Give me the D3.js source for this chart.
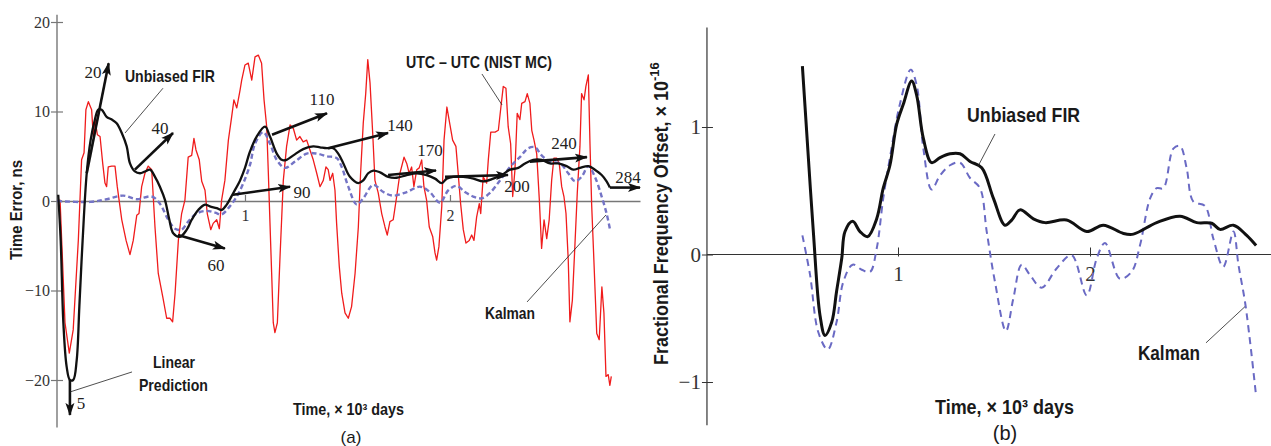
<!DOCTYPE html>
<html>
<head>
<meta charset="utf-8">
<script src="https://cdn.jsdelivr.net/npm/d3@7"></script>
<style>
  body { margin: 0; background: #fff; }
  svg { display: block; }
</style>
</head>
<body>
<svg id="chart" width="1271" height="446"></svg>
<script>
// ---- data: time in 10^3 days ----
// (a) time error, ns
var utcNist = [[0.083,0],[0.098,0.1],[0.122,-13.6],[0.143,-17.0],[0.162,-14.4],[0.187,-4.4],[0.203,4.6],[0.215,5.4],[0.224,10.2],[0.236,11.1],[0.252,10.2],[0.260,7.2],[0.268,9.1],[0.280,7.4],[0.293,7.2],[0.306,4.2],[0.317,2.0],[0.325,1.6],[0.333,3.8],[0.350,3.9],[0.366,3.9],[0.377,1.6],[0.399,-2.1],[0.420,-4.4],[0.439,-6.0],[0.455,-4.4],[0.472,-1.6],[0.483,-1.4],[0.496,1.6],[0.512,3.1],[0.528,3.9],[0.545,3.5],[0.561,-2.9],[0.577,-8.1],[0.599,-10.7],[0.618,-13.1],[0.634,-13.1],[0.647,-13.5],[0.659,-10.3],[0.675,-4.4],[0.691,-1.4],[0.707,0.1],[0.723,4.9],[0.740,5.1],[0.751,7.0],[0.761,5.7],[0.777,4.6],[0.789,2.2],[0.805,1.2],[0.816,-1.4],[0.833,-3.2],[0.845,-2.5],[0.862,-2.1],[0.875,-3.1],[0.886,0.1],[0.902,2.3],[0.919,6.8],[0.935,9.4],[0.946,11.3],[0.960,10.4],[0.976,12.4],[0.984,13.5],[1.000,15.2],[1.016,15.4],[1.033,13.5],[1.049,16.1],[1.065,16.3],[1.081,15.4],[1.093,11.3],[1.106,8.3],[1.114,3.1],[1.122,-2.5],[1.130,-8.0],[1.138,-13.6],[1.146,-14.7],[1.158,-13.6],[1.171,-6.2],[1.187,2.3],[1.203,6.1],[1.220,8.5],[1.236,8.1],[1.252,6.8],[1.268,7.2],[1.284,6.6],[1.301,6.8],[1.317,5.7],[1.333,4.6],[1.350,3.1],[1.366,1.6],[1.382,2.3],[1.395,3.8],[1.406,3.5],[1.415,2.3],[1.428,3.1],[1.439,1.2],[1.447,-2.5],[1.460,-7.3],[1.472,-10.3],[1.488,-12.5],[1.504,-13.1],[1.520,-11.8],[1.537,-8.1],[1.553,-2.9],[1.564,3.1],[1.577,8.7],[1.589,12.0],[1.599,15.8],[1.610,13.2],[1.623,7.6],[1.634,2.3],[1.650,0.9],[1.667,-1.4],[1.683,-2.9],[1.694,-3.8],[1.707,-2.3],[1.723,-2.1],[1.740,0.5],[1.756,3.1],[1.776,4.9],[1.789,4.2],[1.801,3.1],[1.813,3.8],[1.824,1.6],[1.838,3.5],[1.850,3.7],[1.862,4.6],[1.873,1.6],[1.886,0.1],[1.899,-2.9],[1.916,-4.0],[1.927,-5.8],[1.935,-6.6],[1.946,-5.1],[1.960,-0.6],[1.971,6.8],[1.985,10.5],[2.000,8.5],[2.013,6.8],[2.029,6.1],[2.040,3.1],[2.052,-0.3],[2.065,-3.2],[2.078,-4.7],[2.094,-4.4],[2.106,-3.8],[2.117,-4.4],[2.130,-1.8],[2.143,-0.3],[2.150,-1.4],[2.162,2.7],[2.179,2.0],[2.187,4.6],[2.199,7.7],[2.220,7.7],[2.236,7.9],[2.247,10.2],[2.260,12.8],[2.273,12.6],[2.284,8.3],[2.296,6.4],[2.306,0.5],[2.317,3.5],[2.328,9.8],[2.341,9.1],[2.350,10.9],[2.366,11.1],[2.377,12.0],[2.390,10.9],[2.399,7.9],[2.410,6.8],[2.423,5.3],[2.436,0.1],[2.447,-5.3],[2.459,-2.1],[2.472,-4.2],[2.484,-2.1],[2.496,2.3],[2.507,4.8],[2.520,4.8],[2.533,4.2],[2.545,1.6],[2.556,0.5],[2.566,-1.4],[2.577,-6.6],[2.585,-13.5],[2.597,-11.1],[2.610,-4.7],[2.621,0.9],[2.634,6.1],[2.642,12.0],[2.654,11.3],[2.663,12.8],[2.675,14.1],[2.683,6.4],[2.691,-0.3],[2.702,-6.6],[2.716,-14.8],[2.728,-15.5],[2.741,-9.6],[2.751,-12.5],[2.761,-19.6],[2.772,-19.4],[2.780,-20.6],[2.787,-19.6]];

var firError = [[0.089,0.7],[0.101,-4.4],[0.114,-13.6],[0.130,-18.5],[0.146,-20.0],[0.162,-20.0],[0.179,-17.8],[0.192,-11.8],[0.208,-4.4],[0.228,3.1],[0.247,6.8],[0.268,9.1],[0.284,10.2],[0.301,10.2],[0.325,9.4],[0.350,9.1],[0.374,8.7],[0.399,7.6],[0.423,6.1],[0.439,4.2],[0.463,3.3],[0.488,3.1],[0.512,3.3],[0.537,3.5],[0.561,2.7],[0.585,1.6],[0.610,0.1],[0.631,-2.1],[0.650,-3.6],[0.683,-4.0],[0.716,-3.2],[0.740,-2.1],[0.772,-1.0],[0.805,-0.4],[0.829,-0.6],[0.862,-0.8],[0.886,-1.0],[0.911,-0.4],[0.943,0.9],[0.976,2.3],[1.000,3.7],[1.024,5.5],[1.057,7.2],[1.098,8.3],[1.122,7.2],[1.155,5.3],[1.179,4.6],[1.203,4.6],[1.236,5.1],[1.284,5.8],[1.333,6.1],[1.366,6.0],[1.399,5.9],[1.431,5.9],[1.455,5.3],[1.480,4.2],[1.512,2.7],[1.553,2.0],[1.577,2.3],[1.601,3.1],[1.626,3.4],[1.659,3.2],[1.699,2.7],[1.740,2.6],[1.789,2.9],[1.838,3.1],[1.886,2.9],[1.927,2.5],[1.960,2.0],[1.984,2.5],[2.016,2.7],[2.065,2.7],[2.114,2.5],[2.162,2.2],[2.211,2.5],[2.252,2.9],[2.293,3.5],[2.333,3.7],[2.366,4.2],[2.406,4.6],[2.447,4.6],[2.488,4.2],[2.528,4.2],[2.569,3.9],[2.601,3.5],[2.634,3.7],[2.675,3.9],[2.707,3.5],[2.740,2.9],[2.764,2.2],[2.780,1.5]];

var kalmanError = [[0.083,0],[0.244,-0.1],[0.325,0.2],[0.406,0.6],[0.472,0.2],[0.545,0.5],[0.585,-0.3],[0.626,-2.1],[0.659,-3.1],[0.691,-3.2],[0.723,-2.3],[0.764,-1.4],[0.813,-1.1],[0.854,-1.3],[0.886,-1.5],[0.919,-0.8],[0.960,0.5],[0.992,2.0],[1.024,4.0],[1.049,6.4],[1.089,7.7],[1.122,6.4],[1.155,4.6],[1.195,3.7],[1.244,4.4],[1.301,5.3],[1.350,5.3],[1.399,5.0],[1.447,4.8],[1.472,3.8],[1.504,1.6],[1.545,-0.4],[1.577,0.3],[1.626,1.8],[1.675,1.0],[1.723,0.6],[1.789,1.0],[1.854,1.6],[1.902,1.0],[1.951,-0.2],[1.992,1.2],[2.033,1.7],[2.073,1.0],[2.114,0.5],[2.155,0.3],[2.195,0.9],[2.244,2.3],[2.293,3.8],[2.341,4.9],[2.382,5.9],[2.415,6.0],[2.447,5.1],[2.488,4.4],[2.537,4.2],[2.577,3.1],[2.610,2.2],[2.642,2.7],[2.675,3.9],[2.707,2.7],[2.740,0.5],[2.764,-1.4],[2.780,-3.1]];

// linear prediction arrows: step label, start (t, ns), end (t, ns)
var predSteps = ["5","20","40","60","90","110","140","170","200","240","284"];
var predFrom  = [[0.146,-20.0],[0.228,3.1],[0.463,3.5],[0.673,-3.8],[0.941,0.7],[1.132,7.4],[1.405,5.9],[1.698,2.9],[1.976,2.7],[2.390,4.4],[2.780,1.5]];
var predTo    = [[0.146,-23.9],[0.335,15.4],[0.649,7.6],[0.902,-5.3],[1.220,1.6],[1.400,9.8],[1.698,7.6],[1.932,3.4],[2.283,2.9],[2.668,4.9],[2.927,1.5]];

// (b) fractional frequency offset, x 1e-16
var firFreq = [[0.502,1.478],[0.524,0.97],[0.559,0.18],[0.594,-0.48],[0.620,-0.635],[0.655,-0.53],[0.680,-0.29],[0.707,-0.03],[0.724,0.18],[0.764,0.26],[0.802,0.18],[0.842,0.14],[0.889,0.28],[0.923,0.52],[0.958,0.70],[0.993,1.02],[1.028,1.18],[1.071,1.36],[1.097,1.25],[1.132,0.91],[1.175,0.72],[1.219,0.76],[1.271,0.79],[1.323,0.79],[1.375,0.73],[1.436,0.68],[1.497,0.44],[1.557,0.23],[1.592,0.27],[1.635,0.35],[1.705,0.28],[1.766,0.25],[1.878,0.27],[1.983,0.18],[2.069,0.23],[2.174,0.165],[2.226,0.16],[2.347,0.25],[2.469,0.30],[2.556,0.25],[2.634,0.245],[2.677,0.197],[2.747,0.23],[2.816,0.15],[2.865,0.07]];

var kalmanFreq = [[0.502,0.15],[0.542,-0.16],[0.585,-0.61],[0.634,-0.745],[0.680,-0.53],[0.715,-0.215],[0.764,-0.08],[0.811,-0.12],[0.854,-0.137],[0.889,0.047],[0.923,0.44],[0.958,0.76],[1.010,1.18],[1.066,1.45],[1.097,1.33],[1.132,0.83],[1.175,0.51],[1.219,0.62],[1.271,0.70],[1.323,0.72],[1.375,0.60],[1.427,0.52],[1.462,0.18],[1.505,-0.215],[1.562,-0.60],[1.600,-0.35],[1.644,-0.08],[1.687,-0.16],[1.748,-0.26],[1.826,-0.11],[1.904,-0.005],[1.983,-0.32],[2.035,-0.03],[2.078,0.09],[2.156,-0.19],[2.217,-0.135],[2.260,0.07],[2.313,0.44],[2.347,0.52],[2.382,0.52],[2.434,0.83],[2.469,0.85],[2.503,0.68],[2.538,0.415],[2.599,0.38],[2.642,0.126],[2.694,-0.097],[2.747,0.18],[2.773,-0.08],[2.810,-0.40],[2.865,-1.11]];

var yTicksA = [-20, -10, 0, 10, 20];
var xTicksA = [1, 2];
var yTicksB = [-1, 0, 1];
var xTicksB = [1, 2];

// ---- layout ----
var SANS = "'Liberation Sans Narrow','Arial Narrow','Liberation Sans',Arial,sans-serif";
var SERIF = "'Liberation Serif','Times New Roman','DejaVu Serif',serif";

var svg = d3.select("#chart");

var xa = d3.scaleLinear().domain([0.083, 2.927]).range([57, 640]);
var ya = d3.scaleLinear().domain([-20, 20]).range([380, 22]);
var xb = d3.scaleLinear().domain([0, 2.94]).range([706, 1270.5]);
var yb = d3.scaleLinear().domain([-1, 1]).range([382, 127]);

var defs = svg.append("defs");
defs.append("marker")
    .attr("id", "head")
    .attr("viewBox", "0 -5 13 10")
    .attr("refX", 12).attr("refY", 0)
    .attr("markerWidth", 13).attr("markerHeight", 10)
    .attr("markerUnits", "userSpaceOnUse")
    .attr("orient", "auto")
  .append("path")
    .attr("d", "M0,-4.5L13,0L0,4.5L3,0Z")
    .attr("fill", "#111");

function text(g, x, y, s, size, len, weight, family) {
    var t = g.append("text")
        .attr("x", x).attr("y", y)
        .attr("dy", "0.36em")
        .attr("text-anchor", "middle")
        .style("font-family", family || SANS)
        .style("font-size", size + "px")
        .style("font-weight", weight || "bold")
        .attr("fill", "#1a1a1a")
        .text(s);
    if (len) t.attr("textLength", len).attr("lengthAdjust", "spacingAndGlyphs");
    return t;
}

function leader(g, x1, y1, x2, y2) {
    g.append("line")
        .attr("x1", x1).attr("y1", y1).attr("x2", x2).attr("y2", y2)
        .attr("stroke", "#222").attr("stroke-width", 0.8);
}

// ===== panel (a) =====
var gA = svg.append("g");

// axes
gA.append("line")
    .attr("x1", xa.range()[0]).attr("x2", xa.range()[0])
    .attr("y1", ya(20.8)).attr("y2", ya(-25.3))
    .attr("stroke", "#777").attr("stroke-width", 1.4);

var axYA = gA.append("g")
    .attr("transform", "translate(" + xa.range()[0] + ",0)")
    .call(d3.axisLeft(ya).tickValues(yTicksA).tickSizeInner(6).tickSizeOuter(0).tickPadding(1));
axYA.select(".domain").remove();
axYA.selectAll(".tick line").attr("x1", 6).attr("stroke", "#777").attr("stroke-width", 1.2);
axYA.selectAll("text").style("font-family", SERIF).style("font-size", "16px").attr("fill", "#333");

var axXA = gA.append("g")
    .attr("transform", "translate(0," + ya(0) + ")")
    .call(d3.axisBottom(xa).tickValues(xTicksA).tickSizeInner(-6).tickSizeOuter(0).tickPadding(9).tickFormat(d3.format("d")));
axXA.select(".domain").attr("stroke", "#777").attr("stroke-width", 1.4);
axXA.selectAll(".tick line").attr("stroke", "#777").attr("stroke-width", 1.2);
axXA.selectAll("text").style("font-family", SERIF).style("font-size", "16px").attr("fill", "#333");

var lineA = d3.line().x(function(d){ return xa(d[0]); }).y(function(d){ return ya(d[1]); });

gA.append("path").datum(utcNist)
    .attr("d", lineA)
    .attr("fill", "none").attr("stroke", "#f01c1c").attr("stroke-width", 1.3)
    .attr("stroke-linejoin", "round");

gA.append("path").datum(kalmanError)
    .attr("d", lineA.curve(d3.curveCatmullRom))
    .attr("fill", "none").attr("stroke", "#7474c6").attr("stroke-width", 2.4)
    .attr("stroke-dasharray", "5,3");

gA.append("path").datum(firError)
    .attr("d", lineA.curve(d3.curveCatmullRom))
    .attr("fill", "none").attr("stroke", "#111").attr("stroke-width", 2.3)
    .attr("stroke-linejoin", "round");

// prediction arrows
var preds = predSteps.map(function(s, i){ return {step: s, from: predFrom[i], to: predTo[i]}; });
gA.selectAll(".pred").data(preds).enter().append("line")
    .attr("class", "pred")
    .attr("x1", function(d){ return xa(d.from[0]); })
    .attr("y1", function(d){ return ya(d.from[1]); })
    .attr("x2", function(d){ return xa(d.to[0]); })
    .attr("y2", function(d){ return ya(d.to[1]); })
    .attr("stroke", "#111").attr("stroke-width", 2.6)
    .attr("marker-end", "url(#head)");

// step labels, placed in data units near the arrow tips
var predLabelAt = [[0.200,-22.6],[0.259,14.4],[0.585,8.2],[0.859,-7.15],[1.278,1.0],[1.376,11.4],[1.756,8.5],[1.902,5.7],[2.327,1.7],[2.556,6.5],[2.868,2.7]];
preds.forEach(function(d, i){
    text(gA, xa(predLabelAt[i][0]), ya(predLabelAt[i][1]), d.step, 17, null, "normal", SERIF)
        .attr("fill", "#222");
});

// curve annotations
text(gA, xa(0.634), ya(13.97), "Unbiased FIR", 17, 90);
leader(gA, xa(0.600), ya(12.6), xa(0.415), ya(7.6));
text(gA, xa(2.141), ya(15.53), "UTC \u2013 UTC (NIST MC)", 17, 146);
leader(gA, xa(2.156), ya(14.19), xa(2.254), ya(10.73));
text(gA, xa(2.293), ya(-12.51), "Kalman", 17, 50);
leader(gA, xa(2.376), ya(-11.28), xa(2.761), ya(-1.56));
text(gA, xa(0.654), ya(-17.99), "Linear", 17, 42);
text(gA, xa(0.651), ya(-20.5), "Prediction", 17, 69);
leader(gA, xa(0.449), ya(-19.1), xa(0.146), ya(-21.34));

// axis titles
gA.append("text")
    .attr("transform", "translate(21.5,260) rotate(-90)")
    .style("font-family", SANS).style("font-size", "16px").style("font-weight", "bold")
    .attr("fill", "#1a1a1a")
    .attr("textLength", 100).attr("lengthAdjust", "spacingAndGlyphs")
    .text("Time Error, ns");
text(gA, 348.5, 409, "Time, \u00d7 10\u00b3 days", 16, 111);
text(gA, 351, 437, "(a)", 17, null, "normal", "'Liberation Sans',Arial,sans-serif");

// ===== panel (b) =====
var gB = svg.append("g");

gB.append("line")
    .attr("x1", xb(0.005)).attr("x2", xb(0.005))
    .attr("y1", yb(1.78)).attr("y2", yb(-1.34))
    .attr("stroke", "#333").attr("stroke-width", 1.2);

var axYB = gB.append("g")
    .attr("transform", "translate(" + xb(0.005) + ",0)")
    .call(d3.axisLeft(yb).tickValues(yTicksB).tickSizeInner(5).tickSizeOuter(0).tickPadding(1).tickFormat(d3.format("d")));
axYB.select(".domain").remove();
axYB.selectAll(".tick line").attr("x1", 6).attr("stroke", "#333");
axYB.selectAll("text").style("font-family", SERIF).style("font-size", "21px").attr("fill", "#333");

var axXB = gB.append("g")
    .attr("transform", "translate(0," + yb(0) + ")")
    .call(d3.axisBottom(xb).tickValues(xTicksB).tickSizeInner(-7).tickSizeOuter(0).tickPadding(12).tickFormat(d3.format("d")));
axXB.select(".domain").attr("d", "M" + xb(0.005) + ",0H1271").attr("stroke", "#333").attr("stroke-width", 1.2);
axXB.selectAll(".tick line").attr("y1", 2).attr("stroke", "#333");
axXB.selectAll("text").style("font-family", SERIF).style("font-size", "21px").attr("fill", "#333");

var lineB = d3.line().curve(d3.curveCatmullRom)
    .x(function(d){ return xb(d[0]); }).y(function(d){ return yb(d[1]); });

gB.append("path").datum(kalmanFreq)
    .attr("d", lineB)
    .attr("fill", "none").attr("stroke", "#6a6ac4").attr("stroke-width", 2)
    .attr("stroke-dasharray", "7,5");

gB.append("path").datum(firFreq)
    .attr("d", lineB)
    .attr("fill", "none").attr("stroke", "#111").attr("stroke-width", 3)
    .attr("stroke-linejoin", "round");

text(gB, xb(1.654), yb(1.102), "Unbiased FIR", 21, 113);
leader(gB, xb(1.505), yb(0.945), xb(1.417), yb(0.693));
text(gB, xb(2.411), yb(-0.772), "Kalman", 21, 62);
leader(gB, xb(2.604), yb(-0.693), xb(2.807), yb(-0.409));

var yTitleB = gB.append("text")
    .attr("transform", "translate(668,365) rotate(-90)")
    .style("font-family", SANS).style("font-size", "21px").style("font-weight", "bold")
    .attr("fill", "#1a1a1a");
yTitleB.append("tspan")
    .attr("textLength", 284).attr("lengthAdjust", "spacingAndGlyphs")
    .text("Fractional Frequency Offset,  \u00d7 10");
yTitleB.append("tspan")
    .attr("dy", -9).style("font-size", "13px")
    .text("-16");

text(gB, 1004.5, 407, "Time, \u00d7 10\u00b3 days", 20, 139);
text(gB, 1005, 433, "(b)", 20, null, "normal", "'Liberation Sans',Arial,sans-serif");
</script>
</body>
</html>
